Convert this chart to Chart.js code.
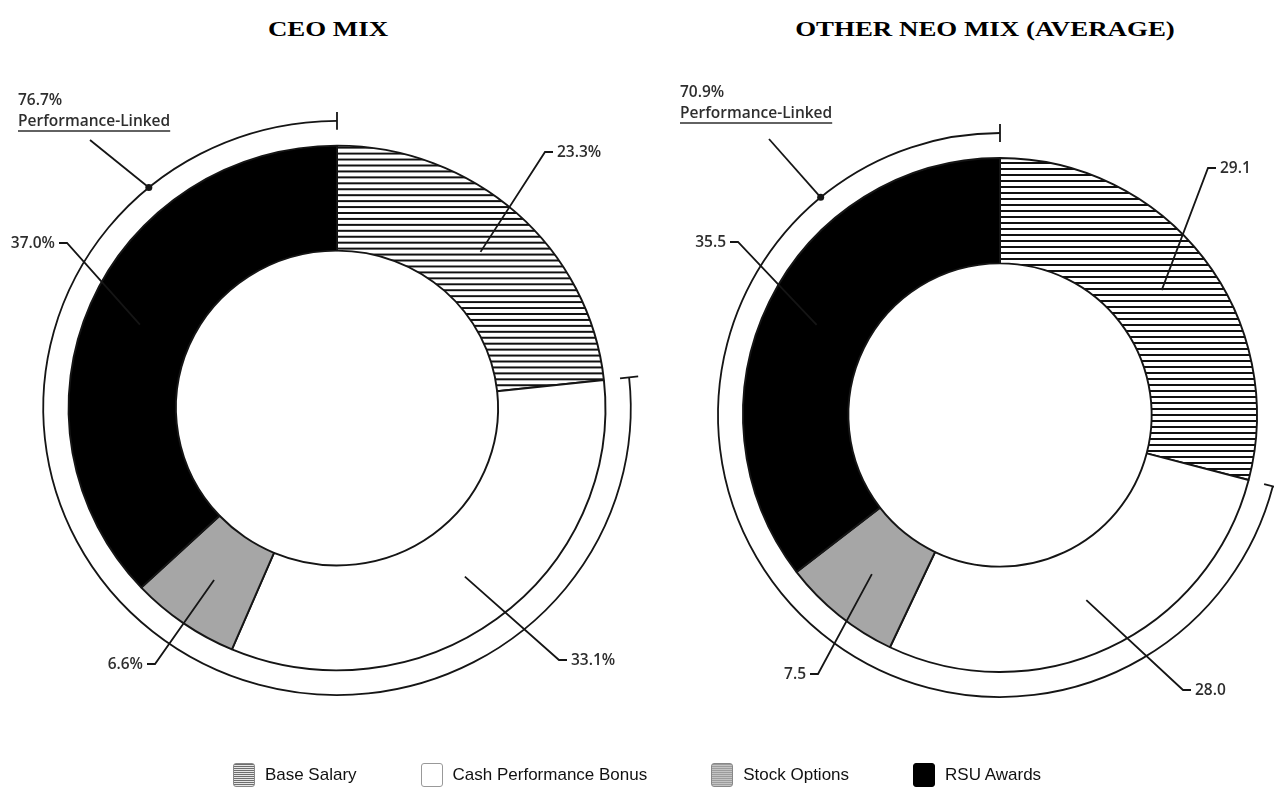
<!DOCTYPE html>
<html>
<head>
<meta charset="utf-8">
<script src="https://cdn.jsdelivr.net/npm/chart.js@4.4.1/dist/chart.umd.min.js"></script>
<style>
    body { margin: 0; background: #fff; width: 1274px; height: 794px; position: relative; overflow: hidden; }
    canvas { position: absolute; left: 0; top: 0; }
    .mix-title { position: absolute; top: 17px; font: bold 21px "Liberation Serif", "Times New Roman", serif; color: #000; transform: translateX(-50%) scaleX(1.28); white-space: nowrap; }
    #legend { position: absolute; left: 0; width: 1274px; top: 763px; display: flex; justify-content: center; gap: 64px; font: 17px "Liberation Sans", Arial, sans-serif; color: #111; }
    .legend-item { display: flex; align-items: center; gap: 10px; height: 24px; }
    .swatch { width: 22px; height: 24px; border-radius: 3px; box-sizing: border-box; }
</style>
</head>
<body>
<div class="mix-title" style="left:328px">CEO MIX</div>
<div class="mix-title" style="left:985px">OTHER NEO MIX (AVERAGE)</div>
<canvas id="ceo-chart" width="1274" height="794"></canvas>
<canvas id="neo-chart" width="1274" height="794"></canvas>
<div id="legend"></div>

<script>
/////////////////////////////////////--------DATA--------/////////////////////////////////////
var categories = ['Base Salary', 'Cash Performance Bonus', 'Stock Options', 'RSU Awards'];

var ceoMix = [23.3, 33.1, 6.6, 37.0];
var ceoValueLabels = ['23.3%', '33.1%', '6.6%', '37.0%'];
var ceoPerfLinked = '76.7%';

var neoMix = [29.1, 28.0, 7.5, 35.5];
var neoValueLabels = ['29.1', '28.0', '7.5', '35.5'];
var neoPerfLinked = '70.9%';

/////////////////////////////////////--------STYLE--------/////////////////////////////////////
var inkColor = '#151515';
var textColor = '#2e2e2e';
var labelFont = '600 15.5px "Open Sans", "Noto Sans", sans-serif';

//horizontal line hatching for base salary
function makeHatch() {
    var c = document.createElement('canvas');
    c.width = 8;
    c.height = 6;
    var g = c.getContext('2d');
    g.fillStyle = '#fff';
    g.fillRect(0, 0, 8, 6);
    g.fillStyle = '#111';
    g.fillRect(0, 0, 8, 2);
    return g.createPattern(c, 'repeat');
}
var segmentColors = [makeHatch(), '#ffffff', '#a6a6a6', '#000000'];

//stretch the ring into a slight ellipse, around the chart centre
const ellipsePlugin = {
    id: 'ellipse',
    beforeDatasetsDraw(chart, args, opts) {
        const arc = chart.getDatasetMeta(0).data[0];
        const ctx = chart.ctx;
        ctx.save();
        ctx.translate(arc.x, arc.y);
        ctx.scale(opts.sx, opts.sy);
        ctx.translate(-arc.x, -arc.y);
    },
    afterDatasetsDraw(chart) {
        chart.ctx.restore();
    }
};

//value leaders, performance-linked bracket and its caption
const calloutPlugin = {
    id: 'callouts',
    afterDraw(chart) {
        const opts = chart.options.plugins.callouts;
        const sx = chart.options.plugins.ellipse.sx;
        const sy = chart.options.plugins.ellipse.sy;
        const arcs = chart.getDatasetMeta(0).data;
        const cx = arcs[0].x, cy = arcs[0].y;
        const ctx = chart.ctx;

        const pt = (a, r) => [cx + Math.cos(a) * r * sx, cy + Math.sin(a) * r * sy];

        ctx.save();
        ctx.strokeStyle = inkColor;
        ctx.lineWidth = 1.8;
        ctx.font = labelFont;
        ctx.fillStyle = textColor;
        ctx.textBaseline = 'middle';

        //value labels with elbow leaders
        arcs.forEach((arc, i) => {
            const lay = opts.leaders[i];
            const mid = (arc.startAngle + arc.endAngle) / 2;
            const p0 = pt(mid, (arc.innerRadius + arc.outerRadius) / 2);
            const elbow = [cx + lay.dx, cy + lay.dy];
            const tail = [elbow[0] + lay.side * 8, elbow[1]];
            ctx.beginPath();
            ctx.moveTo(p0[0], p0[1]);
            ctx.lineTo(elbow[0], elbow[1]);
            ctx.lineTo(tail[0], tail[1]);
            ctx.stroke();
            ctx.textAlign = lay.side > 0 ? 'left' : 'right';
            ctx.fillText(opts.texts[i], tail[0] + lay.side * 4, tail[1] + 1);
        });

        //bracket over the performance-linked segments
        const rb = arcs[0].outerRadius + opts.bracketGap;
        const a0 = arcs[1].startAngle;
        const a1 = arcs[arcs.length - 1].endAngle;
        ctx.beginPath();
        ctx.ellipse(cx, cy, rb * sx, rb * sy, 0, a0, a1);
        ctx.stroke();
        [a0, a1].forEach(a => {
            const p = pt(a, rb - 9), q = pt(a, rb + 9);
            ctx.beginPath();
            ctx.moveTo(p[0], p[1]);
            ctx.lineTo(q[0], q[1]);
            ctx.stroke();
        });

        //dot, pointer and caption
        const dot = pt(opts.dotAngle, rb);
        const end = [cx + opts.pointer.dx, cy + opts.pointer.dy];
        ctx.beginPath();
        ctx.arc(dot[0], dot[1], 3.5, 0, Math.PI * 2);
        ctx.fillStyle = inkColor;
        ctx.fill();
        ctx.beginPath();
        ctx.moveTo(dot[0], dot[1]);
        ctx.lineTo(end[0], end[1]);
        ctx.stroke();

        ctx.fillStyle = textColor;
        ctx.textAlign = 'left';
        ctx.textBaseline = 'alphabetic';
        const tx = cx + opts.caption.dx, ty = cy + opts.caption.dy;
        ctx.fillText(opts.perfText, tx, ty);
        ctx.fillText('Performance-Linked', tx, ty + 21);
        const w = ctx.measureText('Performance-Linked').width;
        ctx.beginPath();
        ctx.lineWidth = 1.4;
        ctx.strokeStyle = textColor;
        ctx.moveTo(tx, ty + 26);
        ctx.lineTo(tx + w, ty + 26);
        ctx.stroke();
        ctx.restore();
    }
};

function makeMixChart(canvasId, values, texts, perfText, layout) {
    var ctx = document.getElementById(canvasId).getContext('2d');
    return new Chart(ctx, {
        type: 'doughnut',
        data: {
            labels: categories,
            datasets: [{
                data: values,
                backgroundColor: segmentColors,
                borderColor: inkColor,
                borderWidth: 1.9,
                hoverOffset: 0,
            }]
        },
        options: {
            responsive: false,
            animation: false,
            devicePixelRatio: 1,
            radius: layout.radius,
            cutout: layout.cutout,
            layout: { padding: layout.padding },
            events: [],
            plugins: {
                legend: { display: false },
                tooltip: { enabled: false },
                ellipse: { sx: layout.sx, sy: layout.sy },
                callouts: {
                    texts: texts,
                    perfText: perfText,
                    leaders: layout.leaders,
                    bracketGap: 25,
                    dotAngle: layout.dotAngle,
                    pointer: layout.pointer,
                    caption: layout.caption,
                }
            }
        },
        plugins: [ellipsePlugin, calloutPlugin]
    });
}

//CEO MIX
let ceoChart = makeMixChart('ceo-chart', ceoMix, ceoValueLabels, ceoPerfLinked, {
    radius: 265, sx: 1.013, sy: 0.99, cutout: '60%',
    padding: { left: 0, right: 600, top: 68, bottom: 46 },
    leaders: [
        { dx: 208, dy: -256, side: 1 },
        { dx: 222, dy: 252, side: 1 },
        { dx: -182, dy: 256, side: -1 },
        { dx: -270, dy: -165, side: -1 },
    ],
    dotAngle: -2.266,
    pointer: { dx: -247, dy: -268 },
    caption: { dx: -319, dy: -303 },
});

//OTHER NEO MIX
let neoChart = makeMixChart('neo-chart', neoMix, neoValueLabels, neoPerfLinked, {
    radius: 257, sx: 1.0, sy: 1.0, cutout: '59%',
    padding: { left: 726, right: 0, top: 75, bottom: 39 },
    leaders: [
        { dx: 208, dy: -247, side: 1 },
        { dx: 183, dy: 275, side: 1 },
        { dx: -182, dy: 259, side: -1 },
        { dx: -262, dy: -173, side: -1 },
    ],
    dotAngle: -2.26,
    pointer: { dx: -231, dy: -276 },
    caption: { dx: -320, dy: -318 },
});

/////////////////////////////////////--------LEGEND--------/////////////////////////////////////
var swatchStyles = [
    'background: repeating-linear-gradient(to bottom, #6e6e6e 0 1px, #e6e6e6 1px 2px); border: 1px solid #888;',
    'background: #fff; border: 1px solid #999;',
    'background: repeating-linear-gradient(to bottom, #9c9c9c 0 1px, #c4c4c4 1px 2px); border: 1px solid #888;',
    'background: #000; border: 1px solid #000;',
];
var legend = document.getElementById('legend');
categories.forEach((name, i) => {
    legend.insertAdjacentHTML('beforeend',
        `<div class="legend-item"><div class="swatch" style="${swatchStyles[i]}"></div><span>${name}</span></div>`);
});
</script>
</body>
</html>
